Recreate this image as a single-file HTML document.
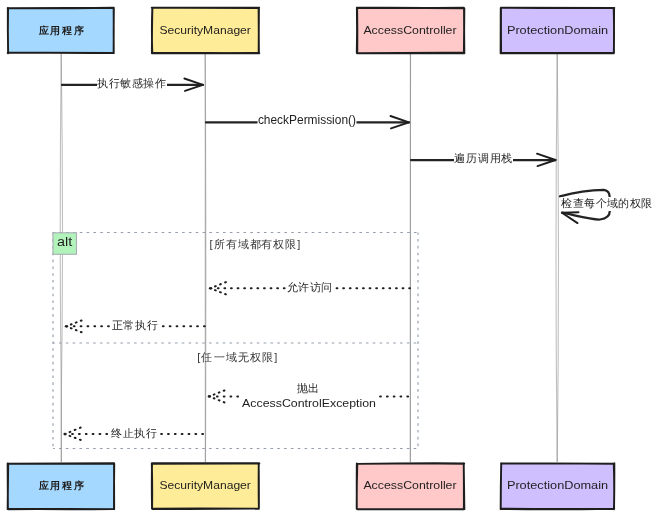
<!DOCTYPE html>
<html><head><meta charset="utf-8">
<style>
html,body{margin:0;padding:0;background:#fff;width:660px;height:517px;overflow:hidden}
svg{position:absolute;left:0;top:0;will-change:transform}
text{font-family:"Liberation Sans",sans-serif}
</style></head><body>
<svg width="660" height="517" viewBox="0 0 660 517">
<g stroke="#6a6a6a" stroke-opacity="0.42" stroke-width="1.1" fill="none">
<path d="M61.2,54 Q59.2,230 61.3,400 L61.3,462"/><path d="M61.2,54 Q63.8,230 61.3,400 L61.3,462"/>
<path d="M205.2,54 Q204.5,250 205.3,462"/><path d="M205.2,54 Q206.3,250 205.5,462"/>
<path d="M410.4,54 L410.4,462"/><path d="M410.5,54 L410.3,462"/>
<path d="M557.2,54 Q554.8,260 557.2,462"/><path d="M557.2,54 Q559.8,260 557.2,462"/>
</g>
<rect x="8" y="8" width="106" height="45" fill="#a5d8ff"/>
<path d="M7.72,8.12Q61.00,7.79 113.66,8.03M113.65,8.01Q113.84,30.50 113.63,52.95M113.67,52.94Q61.00,52.48 8.26,52.70M8.10,53.36Q7.67,30.50 8.06,7.92M7.64,8.29Q61.00,8.57 113.83,7.72M113.85,8.25Q113.54,30.50 113.74,53.07M113.90,53.04Q61.00,53.17 7.65,52.65M8.14,52.94Q7.65,30.50 7.85,8.07" fill="none" stroke="#1e1e1e" stroke-width="1.9" stroke-linecap="round"/>
<rect x="8" y="463.5" width="106" height="45.5" fill="#a5d8ff"/>
<path d="M7.84,463.74Q61.00,463.44 114.16,463.30M114.02,463.80Q114.09,486.25 114.18,508.83M113.69,508.93Q61.00,509.58 8.21,508.72M7.63,509.13Q7.99,486.25 8.21,463.56M7.85,463.66Q61.00,463.95 114.08,463.56M114.27,463.86Q113.95,486.25 113.98,509.13M114.16,509.12Q61.00,508.47 8.39,509.26M7.91,509.13Q7.74,486.25 7.62,463.47" fill="none" stroke="#1e1e1e" stroke-width="1.9" stroke-linecap="round"/>
<rect x="152" y="8" width="107" height="45" fill="#ffec99"/>
<path d="M151.69,7.65Q205.50,7.60 259.21,7.70M258.91,8.30Q258.70,30.50 258.66,52.96M259.31,53.26Q205.50,53.06 152.29,52.82M151.89,53.31Q151.90,30.50 152.37,7.72M151.79,7.79Q205.50,7.61 258.99,8.07M258.60,7.94Q258.72,30.50 258.90,53.05M259.15,53.01Q205.50,53.54 152.09,53.14M152.32,53.22Q151.46,30.50 152.30,8.24" fill="none" stroke="#1e1e1e" stroke-width="1.9" stroke-linecap="round"/>
<rect x="152" y="463.5" width="107" height="45.5" fill="#ffec99"/>
<path d="M151.92,463.18Q205.50,463.37 259.11,463.15M258.77,463.23Q258.48,486.25 258.87,508.64M258.72,508.68Q205.50,508.40 151.89,508.62M152.09,508.72Q152.45,486.25 151.80,463.38M151.70,463.78Q205.50,463.34 259.39,463.47M258.67,463.18Q258.98,486.25 258.87,508.81M258.73,508.62Q205.50,509.39 152.36,509.02M152.03,508.62Q151.58,486.25 152.02,463.88" fill="none" stroke="#1e1e1e" stroke-width="1.9" stroke-linecap="round"/>
<rect x="357" y="8" width="107" height="45" fill="#ffc9c9"/>
<path d="M357.16,7.81Q410.50,8.44 463.89,7.73M464.03,8.22Q464.33,30.50 463.86,52.78M464.39,53.28Q410.50,53.37 357.24,53.25M356.78,53.01Q357.29,30.50 356.88,7.62M356.82,7.81Q410.50,7.43 464.15,8.37M464.35,8.39Q463.94,30.50 464.36,52.89M463.78,52.76Q410.50,52.66 356.76,53.10M357.27,52.98Q357.48,30.50 357.12,8.24" fill="none" stroke="#1e1e1e" stroke-width="1.9" stroke-linecap="round"/>
<rect x="357" y="463.5" width="107" height="45.5" fill="#ffc9c9"/>
<path d="M357.13,463.83Q410.50,463.00 464.23,463.70M463.74,463.73Q463.97,486.25 463.87,509.24M463.92,508.92Q410.50,509.57 357.36,509.18M356.70,508.72Q356.60,486.25 357.32,463.75M357.26,463.88Q410.50,463.08 464.13,463.38M463.70,463.11Q464.06,486.25 464.38,509.12M464.35,508.95Q410.50,509.03 357.30,509.26M356.80,508.83Q356.65,486.25 356.79,463.57" fill="none" stroke="#1e1e1e" stroke-width="1.9" stroke-linecap="round"/>
<rect x="501" y="8" width="113" height="45" fill="#d0bfff"/>
<path d="M500.94,7.70Q557.50,7.71 614.33,7.88M614.07,8.32Q613.95,30.50 613.94,53.33M614.03,53.02Q557.50,53.00 500.61,52.95M500.60,53.24Q500.62,30.50 500.74,7.98M501.05,7.86Q557.50,8.27 614.01,8.04M613.68,8.05Q614.34,30.50 613.80,52.82M614.01,53.05Q557.50,53.33 501.21,53.33M501.09,53.00Q500.93,30.50 501.01,8.15" fill="none" stroke="#1e1e1e" stroke-width="1.9" stroke-linecap="round"/>
<rect x="501" y="463.5" width="113" height="45.5" fill="#d0bfff"/>
<path d="M501.03,463.48Q557.50,463.44 614.35,463.66M614.35,463.31Q614.45,486.25 614.05,509.35M613.71,508.70Q557.50,509.41 500.95,508.66M500.66,509.14Q500.69,486.25 501.23,463.82M501.17,463.63Q557.50,463.09 613.71,463.81M613.78,463.86Q614.56,486.25 613.92,508.99M614.27,508.73Q557.50,509.59 500.95,509.01M500.76,508.85Q500.81,486.25 501.18,463.12" fill="none" stroke="#1e1e1e" stroke-width="1.9" stroke-linecap="round"/>
<text x="38.80" y="33.80" font-size="10" fill="#1e1e1e" font-weight="600" textLength="44.90" lengthAdjust="spacing">应用程序</text>
<text x="159.40" y="33.90" font-size="11.5" fill="#1e1e1e" textLength="91.50" lengthAdjust="spacingAndGlyphs">SecurityManager</text>
<text x="363.40" y="33.90" font-size="11.5" fill="#1e1e1e" textLength="93.20" lengthAdjust="spacingAndGlyphs">AccessController</text>
<text x="506.90" y="33.90" font-size="11.5" fill="#1e1e1e" textLength="101.20" lengthAdjust="spacingAndGlyphs">ProtectionDomain</text>
<text x="38.80" y="489.30" font-size="10" fill="#1e1e1e" font-weight="600" textLength="44.90" lengthAdjust="spacing">应用程序</text>
<text x="159.40" y="489.40" font-size="11.5" fill="#1e1e1e" textLength="91.50" lengthAdjust="spacingAndGlyphs">SecurityManager</text>
<text x="363.40" y="489.40" font-size="11.5" fill="#1e1e1e" textLength="93.20" lengthAdjust="spacingAndGlyphs">AccessController</text>
<text x="506.90" y="489.40" font-size="11.5" fill="#1e1e1e" textLength="101.20" lengthAdjust="spacingAndGlyphs">ProtectionDomain</text>
<g stroke="#949eac" stroke-width="1.15" stroke-dasharray="2.6 4.22" fill="none">
<path d="M53,232.5H418" stroke-dashoffset="0.5"/>
<path d="M418,232.5V448.5" stroke-dashoffset="0.3"/>
<path d="M53,448.5H418" stroke-dashoffset="0.8"/>
<path d="M53,448.5V232.5" stroke-dashoffset="4.62"/>
<path d="M53,343H418" stroke-dashoffset="0.8"/>
</g>
<rect x="53" y="232.8" width="23.5" height="21.5" fill="#b2f2bb" stroke="#a9aeb4" stroke-width="1.1"/>
<text x="57.00" y="246.30" font-size="12" fill="#1e1e1e" textLength="15.20" lengthAdjust="spacingAndGlyphs">alt</text>
<text x="209.60" y="247.80" font-size="11" fill="#333" textLength="90.80" lengthAdjust="spacing">[所有域都有权限]</text>
<text x="197.20" y="360.50" font-size="11" fill="#333" textLength="80.20" lengthAdjust="spacing">[任一域无权限]</text>
<g stroke="#232323" stroke-width="2.25" fill="none" stroke-linecap="round" stroke-linejoin="round">
<line x1="62" y1="84.9" x2="202.9" y2="84.9"/>
<line x1="206" y1="122.4" x2="409" y2="122.4"/>
<line x1="411" y1="160" x2="555.5" y2="160"/>
<path d="M560,196.3 C572,193 590,190 604,189.9 C608,190.5 609.8,194 609.8,198 L609.8,211 C609.8,215 607,218.5 600,219.5 C592,220 578,216 562,212.7"/>
</g>
<g stroke="#1e1e1e" stroke-width="1.9" fill="none" stroke-linecap="round" stroke-linejoin="round">
<polyline points="184.4,78.5 202.9,84.9 185,90.9"/>
<polyline points="390.5,116 409,122.4 391,128.4"/>
<polyline points="537,153.7 555.5,160 537.5,166.1"/>
<polyline points="578.5,212.2 562,212.7 577.5,223.1"/>
</g>
<path d="M214.99,286.45L215.74,286.15M220.06,284.45L220.81,284.15M225.13,282.45L225.87,282.15M214.99,290.12L215.74,290.41M220.06,292.09L220.81,292.38M225.13,294.06L225.87,294.34M217.80,288.30h0.8M224.40,288.30h0.8M231.00,288.30h0.8M237.60,288.30h0.8M244.20,288.30h0.8M250.80,288.30h0.8M257.40,288.30h0.8M264.00,288.30h0.8M270.60,288.30h0.8M277.20,288.30h0.8M283.80,288.30h0.8M290.40,288.30h0.8M297.00,288.30h0.8M303.60,288.30h0.8M310.20,288.30h0.8M316.80,288.30h0.8M323.40,288.30h0.8M330.00,288.30h0.8M336.60,288.30h0.8M343.20,288.30h0.8M349.80,288.30h0.8M356.40,288.30h0.8M363.00,288.30h0.8M369.60,288.30h0.8M376.20,288.30h0.8M382.80,288.30h0.8M389.40,288.30h0.8M396.00,288.30h0.8M402.60,288.30h0.8M409.20,288.30h0.8M70.83,324.54L71.57,324.26M75.83,322.64L76.57,322.36M80.83,320.74L81.57,320.46M70.83,328.09L71.57,328.38M75.83,330.02L76.57,330.31M80.83,331.96L81.57,332.24M73.80,326.30h0.8M80.65,326.30h0.8M87.50,326.30h0.8M94.35,326.30h0.8M101.20,326.30h0.8M108.05,326.30h0.8M114.90,326.30h0.8M121.75,326.30h0.8M128.60,326.30h0.8M135.45,326.30h0.8M142.30,326.30h0.8M149.15,326.30h0.8M156.00,326.30h0.8M162.85,326.30h0.8M169.70,326.30h0.8M176.55,326.30h0.8M183.40,326.30h0.8M190.25,326.30h0.8M197.10,326.30h0.8M203.95,326.30h0.8M213.73,394.61L214.47,394.32M218.73,392.68L219.47,392.39M223.73,390.74L224.47,390.46M213.73,398.22L214.47,398.51M218.73,400.19L219.47,400.48M223.73,402.15L224.47,402.45M216.90,396.40h0.8M223.70,396.40h0.8M230.50,396.40h0.8M237.30,396.40h0.8M244.10,396.40h0.8M250.90,396.40h0.8M257.70,396.40h0.8M264.50,396.40h0.8M271.30,396.40h0.8M278.10,396.40h0.8M284.90,396.40h0.8M291.70,396.40h0.8M298.50,396.40h0.8M305.30,396.40h0.8M312.10,396.40h0.8M318.90,396.40h0.8M325.70,396.40h0.8M332.50,396.40h0.8M339.30,396.40h0.8M346.10,396.40h0.8M352.90,396.40h0.8M359.70,396.40h0.8M366.50,396.40h0.8M373.30,396.40h0.8M380.10,396.40h0.8M386.90,396.40h0.8M393.70,396.40h0.8M400.50,396.40h0.8M407.30,396.40h0.8M69.60,432.12L70.34,431.81M74.76,429.99L75.50,429.68M79.93,427.85L80.67,427.55M69.59,435.86L70.34,436.14M74.76,437.76L75.51,438.04M79.92,439.66L80.68,439.94M72.10,434.10h0.8M78.95,434.10h0.8M85.80,434.10h0.8M92.65,434.10h0.8M99.50,434.10h0.8M106.35,434.10h0.8M113.20,434.10h0.8M120.05,434.10h0.8M126.90,434.10h0.8M133.75,434.10h0.8M140.60,434.10h0.8M147.45,434.10h0.8M154.30,434.10h0.8M161.15,434.10h0.8M168.00,434.10h0.8M174.85,434.10h0.8M181.70,434.10h0.8M188.55,434.10h0.8M195.40,434.10h0.8M202.25,434.10h0.8" stroke="#1e1e1e" stroke-width="2" stroke-linecap="round" fill="none"/>
<ellipse cx="210.60000000000002" cy="288.3" rx="1.7" ry="1.35" fill="#1e1e1e"/>
<ellipse cx="66.5" cy="326.3" rx="1.7" ry="1.35" fill="#1e1e1e"/>
<ellipse cx="209.4" cy="396.4" rx="1.7" ry="1.35" fill="#1e1e1e"/>
<ellipse cx="65.1" cy="434.1" rx="1.7" ry="1.35" fill="#1e1e1e"/>
<g fill="#fff">
<rect x="97" y="77" width="70" height="13"/>
<rect x="257.5" y="115" width="99" height="13"/>
<rect x="454" y="152" width="59" height="13"/>
<rect x="560.5" y="197" width="93" height="14"/>
<rect x="286" y="281" width="47" height="12"/>
<rect x="111" y="319" width="47" height="12"/>
<rect x="241" y="382" width="136" height="30"/>
<rect x="110" y="427" width="48" height="12"/>
</g>
<text x="97.20" y="87.00" font-size="11" fill="#1e1e1e" textLength="68.70" lengthAdjust="spacing">执行敏感操作</text>
<text x="257.90" y="124.30" font-size="12" fill="#1e1e1e" textLength="98.10" lengthAdjust="spacingAndGlyphs">checkPermission()</text>
<text x="454.40" y="161.60" font-size="11" fill="#1e1e1e" textLength="57.80" lengthAdjust="spacing">遍历调用栈</text>
<text x="561.10" y="206.50" font-size="11" fill="#1e1e1e" textLength="91.30" lengthAdjust="spacing">检查每个域的权限</text>
<text x="286.60" y="291.00" font-size="11" fill="#1e1e1e" textLength="45.60" lengthAdjust="spacing">允许访问</text>
<text x="111.80" y="328.90" font-size="11" fill="#1e1e1e" textLength="45.80" lengthAdjust="spacing">正常执行</text>
<text x="297.40" y="392.00" font-size="11" fill="#1e1e1e" textLength="22.00" lengthAdjust="spacing">抛出</text>
<text x="242.10" y="407.10" font-size="11.5" fill="#1e1e1e" textLength="133.90" lengthAdjust="spacingAndGlyphs">AccessControlException</text>
<text x="110.80" y="437.00" font-size="11" fill="#1e1e1e" textLength="46.40" lengthAdjust="spacing">终止执行</text>
</svg>
</body></html>
